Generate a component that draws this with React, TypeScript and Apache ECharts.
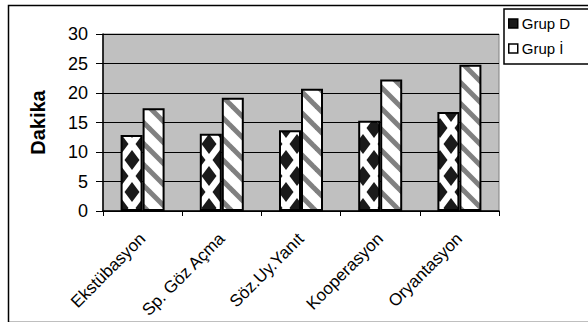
import React, { useEffect, useRef } from "react";
import * as echarts from "echarts";

const categories = ["Ekstübasyon", "Sp. Göz Açma", "Söz.Uy.Yanıt", "Kooperasyon", "Oryantasyon"];
const seriesNames = ["Grup D", "Grup İ"];
const grupD = [12.9, 13.1, 13.7, 15.3, 16.8];
const grupI = [17.4, 19.2, 20.7, 22.3, 24.8];
const yTicks = { min: 0, max: 30, interval: 5 };

function diamondPattern(): HTMLCanvasElement {
  const W = 22, H = 32;
  const c = document.createElement("canvas");
  c.width = W; c.height = H;
  const g = c.getContext("2d")!;
  g.fillStyle = "#ffffff";
  g.fillRect(0, 0, W, H);
  g.fillStyle = "#1a1a1a";
  const hw = 7.5, hh = 10;
  const centers = [
    [W / 2, H / 2],
    [0, 0], [W, 0], [0, H], [W, H],
  ];
  for (const [cx, cy] of centers) {
    g.beginPath();
    g.moveTo(cx, cy - hh);
    g.lineTo(cx + hw, cy);
    g.lineTo(cx, cy + hh);
    g.lineTo(cx - hw, cy);
    g.closePath();
    g.fill();
  }
  return c;
}

function stripePattern(): HTMLCanvasElement {
  const P = 21;
  const c = document.createElement("canvas");
  c.width = P; c.height = P;
  const g = c.getContext("2d")!;
  g.fillStyle = "#ffffff";
  g.fillRect(0, 0, P, P);
  g.strokeStyle = "#808080";
  g.lineWidth = 5;
  for (let k = -1; k <= 1; k++) {
    g.beginPath();
    g.moveTo(-2, k * P - 2);
    g.lineTo(P + 2, k * P + P + 2);
    g.stroke();
  }
  return c;
}

export default function App() {
  const ref = useRef<HTMLDivElement>(null);
  useEffect(() => {
    if (!ref.current) return;
    const chart = echarts.init(ref.current, null, { renderer: "svg" });
    const dp = diamondPattern();
    const sp = stripePattern();
    const font = "Liberation Sans, Arial, sans-serif";
    chart.setOption({
      animation: false,
      backgroundColor: "#ffffff",
      textStyle: { fontFamily: font, color: "#000" },
      grid: {
        left: 103, right: 89, top: 34, bottom: 111,
        show: true, backgroundColor: "#c0c0c0", borderColor: "#808080", borderWidth: 1,
      },
      legend: {
        orient: "vertical",
        left: 504, top: 9,
        data: [
          { name: seriesNames[0], itemStyle: { color: "#1a1a1a" } },
          { name: seriesNames[1], itemStyle: { color: "#ffffff" } },
        ],
        itemWidth: 9, itemHeight: 9, itemGap: 10,
        icon: "rect",
        padding: [7, 24, 8, 4],
        borderColor: "#000", borderWidth: 1.5,
        backgroundColor: "#fff",
        textStyle: { fontFamily: font, fontSize: 15, color: "#000", padding: [0, 0, 0, -1] },
        itemStyle: { borderWidth: 1.5, borderColor: "#000" },
      },
      xAxis: {
        type: "category",
        data: categories,
        axisLine: { lineStyle: { color: "#000", width: 1.5 } },
        axisTick: { show: true, length: 5, lineStyle: { color: "#000" } },
        axisLabel: { rotate: 45, fontSize: 17, fontFamily: font, color: "#000", margin: 25, interval: 0 },
        splitLine: { show: false },
      },
      yAxis: {
        type: "value",
        min: yTicks.min, max: yTicks.max, interval: yTicks.interval,
        axisLine: { show: true, lineStyle: { color: "#000", width: 1.5 } },
        axisTick: { show: true, length: 7, lineStyle: { color: "#000" } },
        axisLabel: { fontSize: 18, fontFamily: font, color: "#000", margin: 15 },
        splitLine: { show: true, lineStyle: { color: "#000", width: 1 } },
      },
      series: [
        {
          name: seriesNames[0], type: "bar", data: grupD,
          barWidth: 22, barGap: "0%",
          itemStyle: {
            color: { image: dp, repeat: "repeat", imageWidth: dp.width, imageHeight: dp.height },
            borderColor: "#000", borderWidth: 2,
          },
        },
        {
          name: seriesNames[1], type: "bar", data: grupI,
          barWidth: 22, barGap: "0%",
          itemStyle: {
            color: { image: sp, repeat: "repeat", imageWidth: sp.width, imageHeight: sp.height },
            borderColor: "#000", borderWidth: 2,
          },
        },
      ],
      graphic: [
        {
          type: "rect", left: 6, top: 3, z: -10, silent: true,
          shape: { x: 0, y: 0, width: 600, height: 317 },
          style: { fill: "none", stroke: "#000", lineWidth: 1.5 },
        },
        {
          type: "text", x: 37.5, y: 122.5, rotation: Math.PI / 2,
          style: { text: "Dakika", align: "center", verticalAlign: "middle", font: "bold 20px Liberation Sans, Arial, sans-serif", fill: "#000" },
        },
      ],
    });
    return () => chart.dispose();
  }, []);
  return <div ref={ref} style={{ position: "fixed", left: 0, top: 0, width: 588, height: 322 }} />;
}
